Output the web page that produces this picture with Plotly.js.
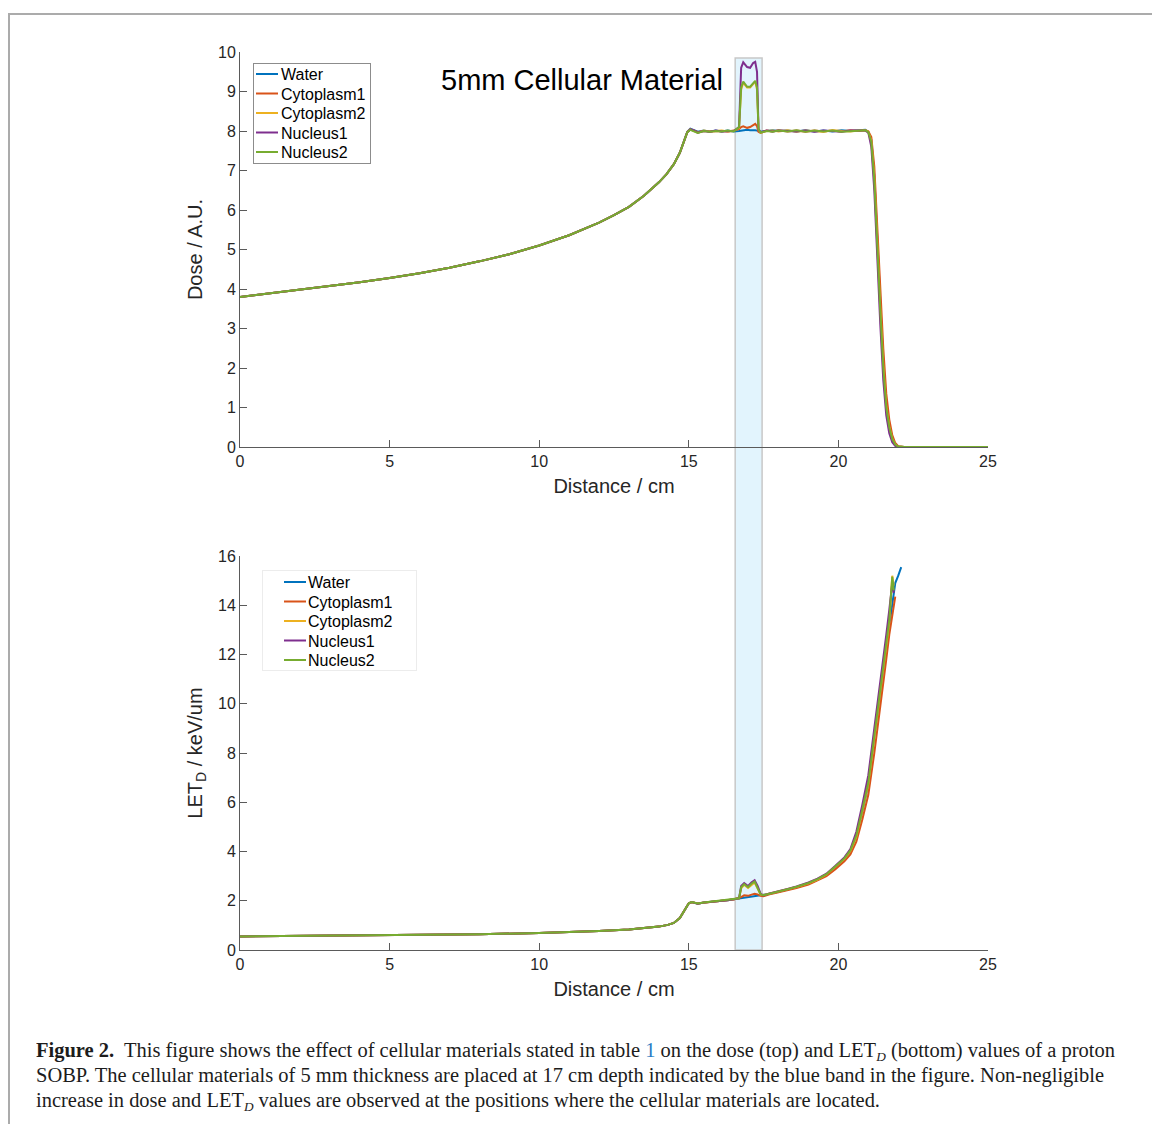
<!DOCTYPE html>
<html>
<head>
<meta charset="utf-8">
<script src="https://cdn.plot.ly/plotly-3.0.1.min.js"></script>
<style>
  html, body { margin: 0; padding: 0; background: #ffffff; }
  #wrap { position: relative; width: 1152px; height: 1124px; overflow: hidden; background: #fff; }
  #frame { position: absolute; left: 8px; top: 13px; width: 1150px; height: 1115px;
           border-top: 2px solid #ababab; border-left: 2px solid #ababab; }
  #chart { position: absolute; left: 0; top: 0; width: 1152px; height: 1124px; }
  #caption { position: absolute; left: 36px; top: 1038px; font-family: "Liberation Serif", "DejaVu Serif", serif;
             font-size: 20px; line-height: 25px; color: #1c1c1c; }
  #caption .ln { white-space: nowrap; transform-origin: 0 0; display: block; width: max-content; height: 25px; }
  #caption .blue { color: #2b7cc4; }
  #caption sub { font-size: 13px; font-style: italic; vertical-align: baseline; position: relative; top: 4px; line-height: 0; }
</style>
</head>
<body>
<div id="wrap">
  <div id="frame"></div>
  <div id="chart"></div>
  <div id="caption">
    <div class="ln" data-w="1079"><b>Figure 2.</b>&nbsp; This figure shows the effect of cellular materials stated in table <span class="blue">1</span> on the dose (top) and LET<sub>D</sub> (bottom) values of a proton</div>
    <div class="ln" data-w="1068">SOBP. The cellular materials of 5 mm thickness are placed at 17 cm depth indicated by the blue band in the figure. Non-negligible</div>
    <div class="ln" data-w="844">increase in dose and LET<sub>D</sub> values are observed at the positions where the cellular materials are located.</div>
  </div>
</div>
<script>
// ---------------- DATA ----------------
const seriesNames = ["Water", "Cytoplasm1", "Cytoplasm2", "Nucleus1", "Nucleus2"];

const doseX = [0,1,2,3,4,5,6,7,8,9,10,
  11,12,12.5,13,13.5,14,
  14.25,14.5,14.7,14.85,14.95,15.05,15.15,15.3,15.5,15.7,15.9,
  16.1,16.3,16.5,16.68,16.75,16.82,16.95,17.05,17.15,17.22,
  17.28,17.33,17.4,17.6,17.8,18.0,18.3,18.6,18.9,19.2,
  19.5,19.8,20.1,20.4,20.7,20.9,21.0,21.1,21.2,21.3,
  21.4,21.5,21.6,21.7,21.8,21.9,22.0,22.2,23,24,
  25];

const doseWater = [3.80,3.89,3.98,4.07,4.17,4.28,4.40,4.54,4.70,4.88,5.10,
  5.36,5.68,5.87,6.08,6.36,6.70,
  6.90,7.16,7.45,7.76,7.98,8.06,8.03,7.98,8.01,7.98,8.01,
  7.99,8.01,7.99,8.00,8.01,8.02,8.03,8.02,8.03,8.02,
  8.01,8.00,7.98,8.00,8.02,8.00,8.01,7.99,8.02,7.99,
  8.01,7.99,8.02,8.00,8.02,8.03,7.98,7.78,6.85,5.15,
  3.60,2.10,1.05,0.55,0.22,0.07,0.01,0,0,0,
  0];

const doseCyto1 = [3.80,3.89,3.98,4.07,4.17,4.28,4.40,4.54,4.70,4.88,5.10,
  5.36,5.68,5.87,6.08,6.36,6.70,
  6.90,7.16,7.45,7.76,7.97,8.04,8.02,7.97,8.00,7.99,8.00,
  8.00,7.99,8.01,8.05,8.10,8.12,8.08,8.10,8.15,8.18,
  8.12,7.98,7.95,8.01,7.99,8.02,7.99,8.01,7.98,8.01,
  7.99,8.01,7.99,8.02,8.00,8.02,7.99,7.85,7.10,5.50,
  4.00,2.50,1.35,0.70,0.30,0.10,0.02,0,0,0,
  0];

const doseCyto2 = [3.80,3.89,3.98,4.07,4.17,4.28,4.40,4.54,4.70,4.88,5.10,
  5.36,5.68,5.87,6.08,6.36,6.70,
  6.90,7.16,7.45,7.76,7.97,8.04,8.01,7.96,8.01,7.99,8.00,
  8.01,7.99,8.00,8.08,9.05,9.22,9.10,9.10,9.20,9.25,
  9.05,8.05,7.96,8.00,8.01,7.99,8.02,7.98,8.01,8.00,
  7.98,8.02,8.00,7.99,8.01,8.02,7.98,7.75,6.80,5.05,
  3.50,2.05,1.02,0.52,0.21,0.06,0.01,0,0,0,
  0];

const doseNuc1 = [3.80,3.89,3.98,4.07,4.17,4.28,4.40,4.54,4.70,4.88,5.10,
  5.36,5.68,5.87,6.08,6.36,6.70,
  6.90,7.16,7.45,7.76,7.97,8.04,8.02,7.96,8.00,7.98,8.01,
  7.99,8.00,8.00,8.10,9.60,9.74,9.62,9.60,9.72,9.75,
  9.50,8.05,7.97,8.01,7.99,8.01,8.00,7.99,8.01,7.98,
  8.01,8.00,7.98,8.01,8.00,8.01,7.96,7.60,6.50,4.70,
  3.10,1.70,0.80,0.35,0.12,0.03,0,0,0,0,
  0];

const doseNuc2 = [3.80,3.89,3.98,4.07,4.17,4.28,4.40,4.54,4.70,4.88,5.10,
  5.36,5.68,5.87,6.08,6.36,6.70,
  6.90,7.16,7.45,7.76,7.97,8.03,8.00,7.95,8.00,7.98,8.00,
  7.99,8.01,7.99,8.10,9.10,9.25,9.12,9.12,9.22,9.27,
  9.10,8.05,7.96,8.00,7.98,8.01,7.99,8.02,7.98,8.01,
  7.99,8.01,7.98,8.00,8.01,8.02,7.97,7.72,6.75,5.00,
  3.45,2.00,1.00,0.50,0.20,0.06,0.01,0,0,0,
  0];

const letX = [0,2,4,6,8,10,
  11,12,13,13.5,
  14,14.3,14.5,14.7,14.85,
  15.0,15.1,15.3,15.5,15.8,
  16.0,16.3,16.5,16.68,16.75,
  16.85,16.98,17.1,17.2,17.3,
  17.4,17.5,17.7,18.0,18.3,
  18.6,19.0,19.3,19.6,19.9,
  20.2,20.4,20.6,20.8,21.0,
  21.2,21.4,21.6,21.7,21.8,
  21.85,21.9,22.0,22.1];

const letWater = [0.55,0.57,0.59,0.61,0.64,0.69,
  0.72,0.77,0.83,0.88,
  0.95,1.02,1.10,1.30,1.62,
  1.90,1.95,1.88,1.93,1.96,
  1.99,2.02,2.06,2.09,2.10,
  2.12,2.14,2.16,2.18,2.20,
  2.22,2.24,2.28,2.36,2.45,
  2.55,2.70,2.85,3.05,3.35,
  3.68,4.00,4.60,5.60,6.70,
  8.60,10.30,12.30,13.20,14.10,
  14.50,14.90,15.20,15.55];

const letCyto1 = [0.55,0.57,0.59,0.61,0.64,0.69,
  0.72,0.77,0.83,0.88,
  0.95,1.02,1.10,1.30,1.62,
  1.90,1.94,1.89,1.92,1.97,
  1.98,2.03,2.05,2.10,2.15,
  2.22,2.20,2.25,2.28,2.26,
  2.20,2.18,2.26,2.34,2.42,
  2.52,2.66,2.82,3.00,3.28,
  3.60,3.88,4.40,5.30,6.30,
  8.00,9.80,11.80,12.80,13.60,
  14.00,14.35,null,null];

const letCyto2 = [0.55,0.57,0.59,0.61,0.64,0.69,
  0.72,0.77,0.83,0.88,
  0.95,1.02,1.10,1.30,1.62,
  1.90,1.95,1.89,1.93,1.96,
  1.99,2.02,2.06,2.10,2.50,
  2.65,2.52,2.66,2.74,2.50,
  2.25,2.23,2.29,2.37,2.46,
  2.56,2.71,2.86,3.07,3.38,
  3.70,4.02,4.60,5.65,6.75,
  8.60,10.40,12.40,13.30,15.20,
  14.80,null,null,null];

const letNuc1 = [0.55,0.57,0.59,0.61,0.64,0.69,
  0.72,0.77,0.83,0.88,
  0.95,1.02,1.10,1.30,1.62,
  1.90,1.95,1.88,1.93,1.96,
  1.99,2.02,2.06,2.10,2.60,
  2.72,2.60,2.75,2.83,2.60,
  2.28,2.22,2.30,2.38,2.48,
  2.58,2.74,2.90,3.10,3.42,
  3.76,4.10,4.80,5.90,7.10,
  9.00,10.80,12.80,13.80,14.90,
  14.50,null,null,null];

const letNuc2 = [0.55,0.57,0.59,0.61,0.64,0.69,
  0.72,0.77,0.83,0.88,
  0.95,1.02,1.10,1.30,1.62,
  1.90,1.95,1.89,1.93,1.97,
  1.99,2.03,2.06,2.10,2.55,
  2.68,2.55,2.70,2.78,2.55,
  2.26,2.22,2.29,2.38,2.47,
  2.57,2.72,2.88,3.08,3.40,
  3.72,4.05,4.65,5.70,6.80,
  8.70,10.50,12.50,13.40,15.15,
  14.60,null,null,null];

const xTicks = [0, 5, 10, 15, 20, 25];
const doseTicks = [0,1,2,3,4,5,6,7,8,9,10];
const letTicks = [0,2,4,6,8,10,12,14,16];
const band = [16.55, 17.45];

// ---------------- STYLE ----------------
const colors = ["#0072BD", "#D95319", "#EDB120", "#7E2F8E", "#77AC30"];
const doseSeries = [doseWater, doseCyto1, doseCyto2, doseNuc1, doseNuc2];
const letSeries = [letWater, letCyto1, letCyto2, letNuc1, letNuc2];

const traces = [];
seriesNames.forEach((n, i) => {
  traces.push({ x: doseX, y: doseSeries[i], type: "scatter", mode: "lines", name: n,
    line: { color: colors[i], width: 2 }, xaxis: "x", yaxis: "y", legend: "legend" });
});
seriesNames.forEach((n, i) => {
  traces.push({ x: letX, y: letSeries[i], type: "scatter", mode: "lines", name: n,
    line: { color: colors[i], width: 2 }, xaxis: "x2", yaxis: "y2", legend: "legend2",
    connectgaps: false });
});

const W = 1152, H = 1124;
const xDom = [240 / W, 988 / W];
const yDomTop = [(H - 447) / H, (H - 52) / H];
const yDomBot = [(H - 950) / H, (H - 556) / H];

const axisCommon = {
  showline: true, linecolor: "#5a5a5a", linewidth: 1,
  ticks: "inside", ticklen: 7, tickcolor: "#5a5a5a", tickwidth: 1,
  showgrid: false, zeroline: false,
  tickfont: { size: 16, color: "#262626", family: "Liberation Sans, Arial, sans-serif" },
  fixedrange: true
};
const titleFont = { size: 20, color: "#262626", family: "Liberation Sans, Arial, sans-serif" };

const layout = {
  width: W, height: H,
  margin: { l: 0, r: 0, t: 0, b: 0 },
  paper_bgcolor: "rgba(0,0,0,0)", plot_bgcolor: "rgba(0,0,0,0)",
  font: { family: "Liberation Sans, Arial, sans-serif", color: "#000" },
  showlegend: true,
  xaxis: Object.assign({}, axisCommon, { domain: xDom, range: [0, 25], anchor: "y", tickvals: xTicks,
    title: { text: "Distance / cm", font: titleFont, standoff: 9 } }),
  yaxis: Object.assign({}, axisCommon, { domain: yDomTop, range: [0, 10], anchor: "x", tickvals: doseTicks,
    title: { text: "Dose / A.U.", font: titleFont, standoff: 10 } }),
  xaxis2: Object.assign({}, axisCommon, { domain: xDom, range: [0, 25], anchor: "y2", tickvals: xTicks,
    title: { text: "Distance / cm", font: titleFont, standoff: 9 } }),
  yaxis2: Object.assign({}, axisCommon, { domain: yDomBot, range: [0, 16], anchor: "x2", tickvals: letTicks,
    title: { text: "LET<sub>D</sub> / keV/um", font: titleFont, standoff: 10 } }),
  legend: { x: 253 / W, y: (H - 63) / H, xanchor: "left", yanchor: "top",
    bgcolor: "#ffffff", bordercolor: "#8c8c8c", borderwidth: 1,
    font: { size: 16, color: "#000" }, itemwidth: 30, tracegroupgap: 0 },
  legend2: { x: 262 / W, y: (H - 570) / H, xanchor: "left", yanchor: "top",
    bgcolor: "#ffffff", bordercolor: "#ececec", borderwidth: 1,
    font: { size: 16, color: "#000" }, itemwidth: 30, tracegroupgap: 0 },
  shapes: [{
    type: "rect", xref: "x", yref: "paper", x0: band[0], x1: band[1],
    y0: (H - 950) / H, y1: (H - 58) / H,
    fillcolor: "#e2f4fd", line: { color: "#c8c8c8", width: 1.5 }, layer: "below"
  }],
  annotations: [{
    text: "5mm Cellular Material", xref: "paper", yref: "paper",
    x: 582 / W, y: (H - 80) / H, xanchor: "center", yanchor: "middle",
    showarrow: false, font: { size: 29, color: "#000" }
  }]
};

// compact MATLAB-like legend layout (presentational only), in page pixel coordinates
function placeLegend(id, box, lineX0, lineLen, textX, y0, dy) {
  const g = document.querySelector("g." + id);
  if (!g) return;
  const items = g.querySelectorAll("g.traces");
  items.forEach((it, i) => {
    const m = /translate\(\s*([-\d.]+)/.exec(it.getAttribute("transform") || "");
    const tx = m ? parseFloat(m[1]) : 0;
    const pm = it.parentNode.getScreenCTM();
    const ly = (y0 + dy * i - pm.f) / pm.d;
    it.setAttribute("transform", "translate(" + tx + "," + ly + ")");
    it.querySelectorAll("path.js-line").forEach(p => {
      const c = p.getScreenCTM();
      p.setAttribute("d", "M" + ((lineX0 - c.e) / c.a) + ",0h" + lineLen);
    });
    const txt = it.querySelector("text." + id + "text") || it.querySelector("text.legendtext") || it.querySelector("text");
    if (txt) {
      const c = txt.getScreenCTM();
      const lx = (textX - c.e) / c.a;
      txt.setAttribute("x", lx);
      txt.querySelectorAll("tspan[x]").forEach(t => t.setAttribute("x", lx));
    }
  });
  const bg = g.querySelector("rect.bg");
  if (bg) {
    const c = bg.getScreenCTM();
    bg.setAttribute("x", (box[0] - c.e) / c.a);
    bg.setAttribute("y", (box[1] - c.f) / c.d);
    bg.setAttribute("width", box[2]);
    bg.setAttribute("height", box[3]);
  }
}

Plotly.newPlot("chart", traces, layout, { displayModeBar: false, staticPlot: true }).then(() => {
  placeLegend("legend", [253.5, 63.5, 117, 100], 256, 22, 281, 74, 19.5);
  placeLegend("legend2", [262.5, 570.5, 154, 100], 284, 22, 308, 582, 19.5);
  document.querySelectorAll("#caption .ln").forEach(el => {
    const target = parseFloat(el.dataset.w);
    const w = el.getBoundingClientRect().width;
    if (w > 0) el.style.transform = "scaleX(" + (target / w) + ")";
  });
});
</script>
</body>
</html>
